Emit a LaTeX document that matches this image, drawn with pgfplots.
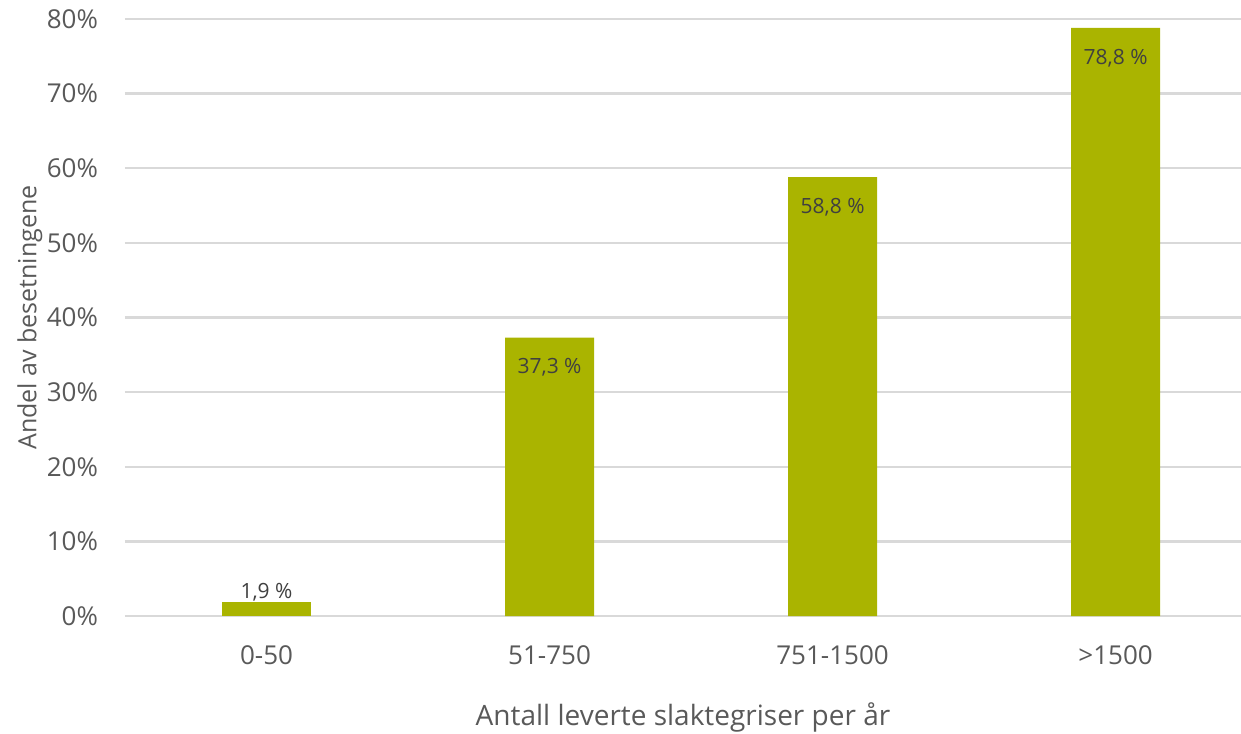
\documentclass[border=0pt]{standalone}
\usepackage{fontspec}
\setmainfont{Open Sans}
\usepackage{pgfplots}
\pgfplotsset{compat=1.18}
\definecolor{barc}{HTML}{AAB400}
\definecolor{gridc}{HTML}{D9D9D9}
\definecolor{txt}{HTML}{595959}
\definecolor{lbl}{HTML}{404040}
\begin{document}
\begin{tikzpicture}
\begin{axis}[
  scale only axis,
  width=558pt, height=298.5pt,
  ybar, bar width=44.5pt, bar shift=0pt,
  xmin=-0.5, xmax=3.443,
  ymin=0, ymax=80,
  xtick={0,1,2,3},
  xticklabels={0-50,51-750,751-1500,>1500},
  ytick={0,10,...,80},
  yticklabel={\pgfmathprintnumber{\tick}\%},
  /pgf/number format/assume math mode=true,
  ymajorgrids, grid style={gridc, line width=1.2pt},
  axis line style={draw=none},
  major tick length=0pt,
  tick label style={font=\fontsize{13}{15}\selectfont, text=txt},
  yticklabel style={xshift=-10pt},
  xticklabel style={yshift=-11.5pt},
  xlabel={Antall leverte slaktegriser per år},
  ylabel={Andel av besetningene},
  xlabel style={font=\fontsize{14}{16}\selectfont, text=txt, at={(rel axis cs:0.5,0)}, anchor=center, yshift=-50.5pt},
  ylabel style={font=\fontsize{12.5}{15}\selectfont, text=txt, at={(rel axis cs:0,0.5)}, anchor=center, yshift=47.5pt},
  clip=false,
  nodes near coords={\pgfmathprintnumber[fixed,precision=1,zerofill,use comma]{\pgfplotspointmeta}~\%},
  every node near coord/.append style={font=\fontsize{10.5}{12}\selectfont, text=lbl},
]
\coordinate (bl) at (rel axis cs:0,0);
\coordinate (tr) at (rel axis cs:1,1);
\addplot[fill=barc, draw=none,
  every node near coord/.append style={anchor=north, yshift=-7pt}]
  coordinates {(1,37.3) (2,58.8) (3,78.8)};
\addplot[fill=barc, draw=none,
  every node near coord/.append style={anchor=south, yshift=-3pt}]
  coordinates {(0,1.9)};
\end{axis}
\pgfresetboundingbox
\path[use as bounding box] ([xshift=-62.5pt,yshift=-58.5pt]bl) rectangle ([yshift=9.5pt]tr);
\end{tikzpicture}
\end{document}
